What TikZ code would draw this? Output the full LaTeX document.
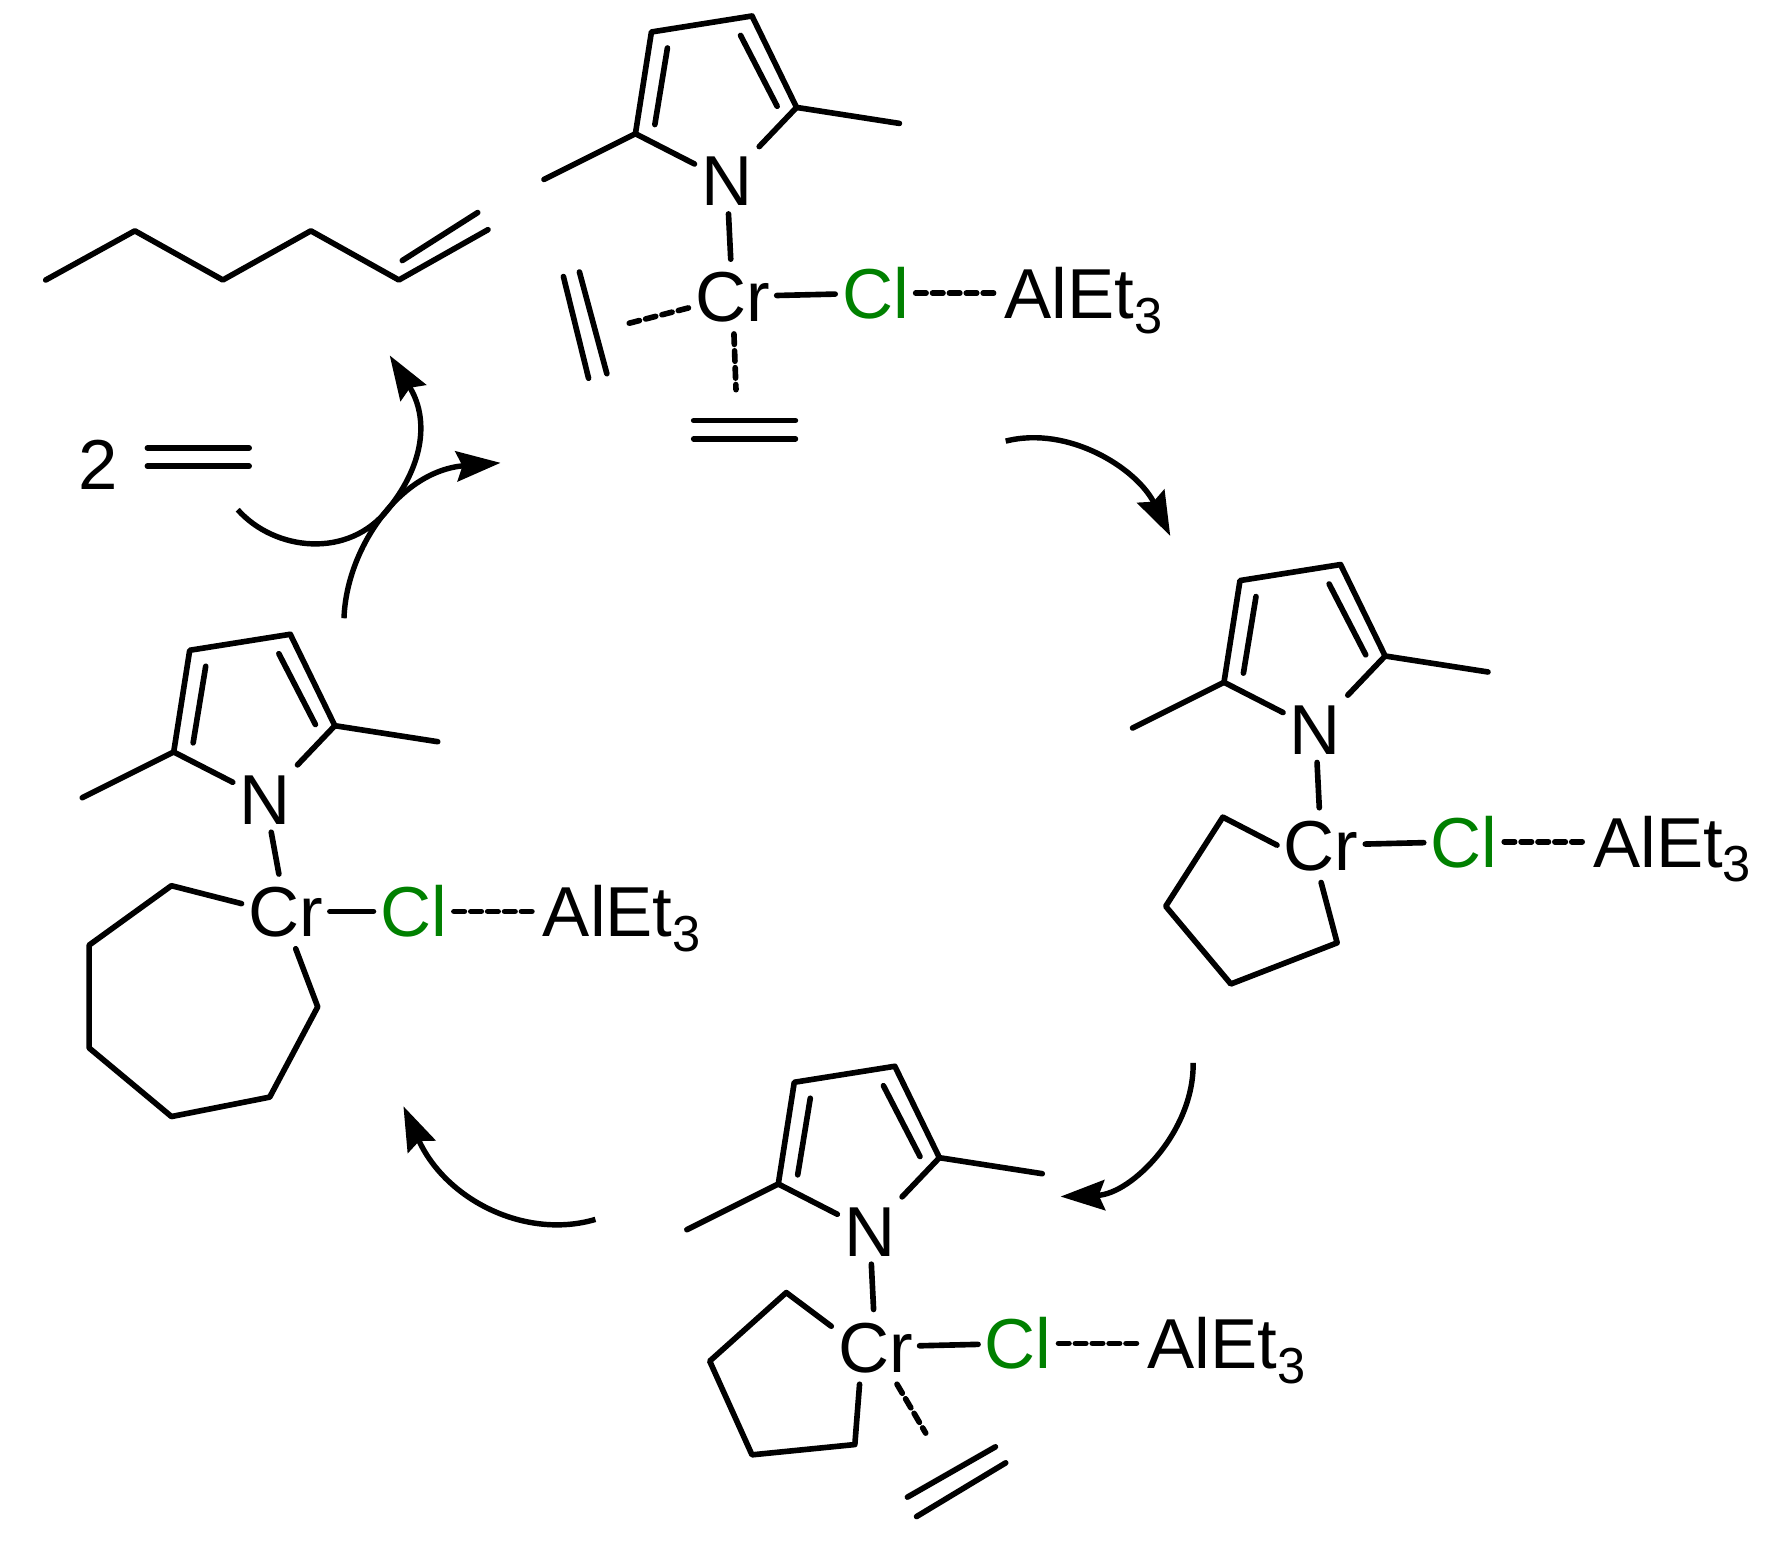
\documentclass[tikz,border=0pt]{standalone}
\usepackage{fontspec}
\setmainfont{Liberation Sans}
\usetikzlibrary{arrows.meta}
\newcommand{\altri}{AlEt\raisebox{-3.7pt}{\fontsize{12.6}{13}\selectfont 3}}
\begin{document}
\begin{tikzpicture}[x=0.01cm,y=-0.01cm,
  atom/.style={inner xsep=1.5pt,inner ysep=2.8pt,text height=12.6pt,text depth=0pt,font=\fontsize{17.6}{18}\selectfont},
  bond/.style={line width=1.4pt,line cap=round,line join=round},
  weak/.style={bond,dash pattern=on 2.6pt off 1.6pt},
  cycle arrow/.style={line width=1.35pt,-{Stealth[length=11pt,width=7.5pt,inset=1.5pt]}},
  crunit/.pic={
    \node[atom] (-n) at (0,0) {N};
    \node[atom] (-cr) at (#1) {Cr};
    \node[atom,text=green!50!black] (-cl) at (130,98.5) {Cl};
    \node[atom,anchor=west] (-al) at (237,98.5) {\altri};
    \coordinate (-c2) at (-80,-41);
    \coordinate (-c5) at (61,-64);
    \draw[bond] (-160,-1) -- (-c2) -- (-66,-130) -- (22,-144) -- (-c5) -- (151,-50);
    \draw[bond] (-63,-49) -- (-52,-116);
    \draw[bond] (12,-127) -- (44,-65);
    \draw[bond] (-c2) -- (-n);
    \draw[bond] (-c5) -- (-n);
    \draw[bond,shorten <=-1pt] (-n) -- (-cr);
    \draw[bond] (-cr) -- (-cl);
    \draw[weak] (-cl) -- (-al);
  }]
\useasboundingbox (0,0) rectangle (1568,1349.5);

% top
\pic (top) at (636,158) {crunit={5,101.5}};
\coordinate (eth1) at (546,284);
\coordinate (eth2) at (644,341);
\draw[weak] (top-cr) -- (eth1);
\draw[weak] (top-cr) -- (eth2);
\draw[bond] (493,242) -- (515,331);
\draw[bond] (507,238) -- (531,327);
\draw[bond] (607,368) -- (696,368);
\draw[bond] (607,384) -- (696,384);

% right
\pic (right) at (1151,638) {crunit={5,101.5}};
\draw[bond] (right-cr.west) -- (1070,715) -- (1020,793) -- (1077,861) -- (1170,825) -- (right-cr.south);

% bottom
\pic (bottom) at (761,1077) {crunit={5,101.5}};
\coordinate (eth3) at (810,1254);
\draw[bond] (bottom-cr.155) -- (688,1131) -- (621,1191) -- (658,1273) -- (748,1264) -- (bottom-cr.247);
\draw[weak] (bottom-cr.300) -- (eth3);
\draw[bond] (794,1310) -- (871,1266);
\draw[bond] (802,1327) -- (880,1280);

% left
\pic (left) at (232,699) {crunit={18,98.5}};
\draw[bond] (left-cr.170) -- (150,775) -- (78,827) -- (78,917) -- (150,977) -- (236,960) -- (278,881) -- (left-cr.285);

% hexene and ethene
\node[atom] (two) at (85.5,406.5) {2};
\draw[bond] (40,245) -- (118,202) -- (195,245) -- (272,202) -- (349,245) -- (427,201);
\draw[bond] (352,228) -- (418,186);
\draw[bond] (129,392) -- (218,392);
\draw[bond] (129,408) -- (218,408);

% cycle arrows
\draw[cycle arrow] (208,446) .. controls (240,482) and (305,490) .. (340,445) .. controls (372,405) and (375,365) .. (341,311);
\draw[cycle arrow] (301,541) .. controls (303,480) and (350,412) .. (438,405);
\draw[cycle arrow] (880,386) .. controls (935,372) and (995,410) .. (1024,469);
\draw[cycle arrow] (1044,930) .. controls (1045,990) and (990,1045) .. (928,1047);
\draw[cycle arrow] (521,1067) .. controls (460,1085) and (390,1050) .. (353,968);
\end{tikzpicture}
\end{document}
